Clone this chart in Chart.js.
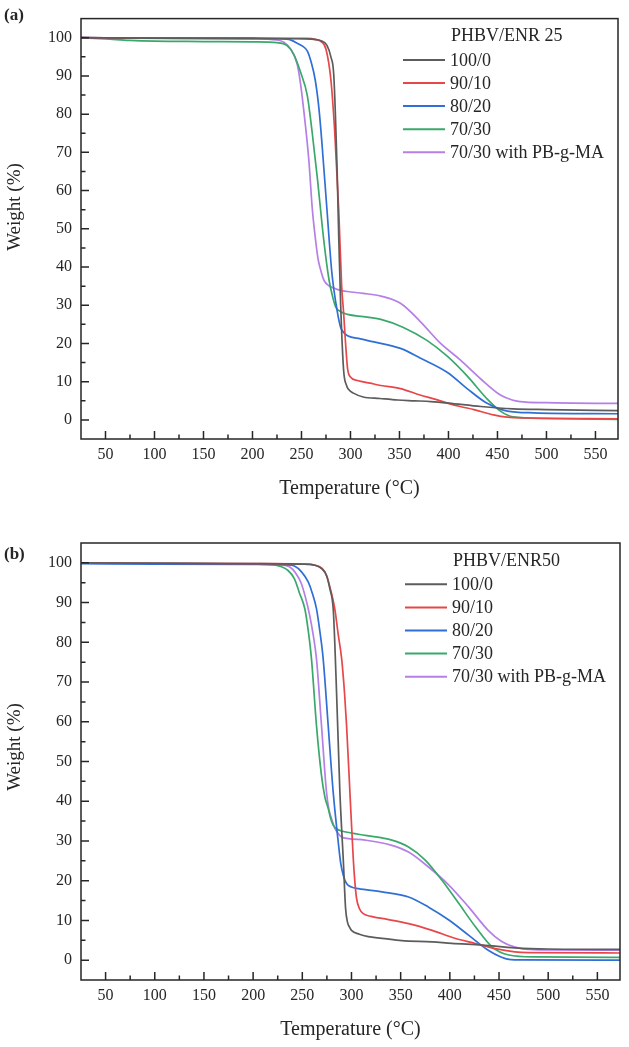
<!DOCTYPE html>
<html>
<head>
<meta charset="utf-8">
<script src="https://cdn.jsdelivr.net/npm/chart.js@4.4.1/dist/chart.umd.min.js"></script>
<style>
  html, body { margin: 0; padding: 0; background: #fff; }
  #wrap { position: relative; width: 629px; height: 1047px; }
  canvas { position: absolute; left: 0; }
</style>
</head>
<body>
<div id="wrap">
  <canvas id="chart-a" width="629" height="522" style="top:0"></canvas>
  <canvas id="chart-b" width="629" height="525" style="top:522px"></canvas>
</div>
<script>
// --- series labels / colours ---
const seriesNames = ['100/0', '90/10', '80/20', '70/30', '70/30 with PB-g-MA'];
const seriesColors = ['#5c5c5c', '#e8474a', '#2f6fd6', '#3aa86b', '#b57fe6'];

// --- axis ticks ---
const xTicks = [50, 100, 150, 200, 250, 300, 350, 400, 450, 500, 550];
const xMinor = [75, 125, 175, 225, 275, 325, 375, 425, 475, 525];
const yTicks = [0, 10, 20, 30, 40, 50, 60, 70, 80, 90, 100];
const yMinor = [5, 15, 25, 35, 45, 55, 65, 75, 85, 95];

// --- panel (a): PHBV/ENR 25 ---
const a100T = [25, 100, 200, 255, 265, 270, 276, 280, 283, 286.5, 288, 290, 293, 296, 298, 303, 313, 330, 348, 365, 382, 400, 433, 466, 500, 575];
const a100W = [100, 99.9, 99.8, 99.7, 99.5, 99.2, 98, 95, 90, 64, 48, 30, 13, 9, 8, 7, 6, 5.6, 5.2, 5, 4.8, 4.4, 3.5, 2.9, 2.7, 2.4];
const a90T = [25, 100, 200, 255, 265, 270, 275, 280, 284, 288, 291, 293, 295, 297, 300, 307, 320, 331, 351, 371, 385, 399, 412, 426, 446, 460, 480, 575];
const a90W = [100, 99.9, 99.9, 99.8, 99.5, 99, 97, 89, 75, 55, 35, 28, 20, 13.5, 11.2, 10.3, 9.6, 9, 8.2, 6.5, 5.5, 4.4, 3.5, 2.7, 1.3, 0.7, 0.5, 0.3];
const a80T = [25, 100, 200, 235, 240, 246, 251, 256, 260, 264, 268, 271, 276, 281, 286.5, 290, 293, 297, 310, 324, 351, 371, 399, 419, 439, 460, 487, 575];
const a80W = [100, 99.9, 99.8, 99.6, 99.3, 98.5, 97.8, 96.5, 93.5, 89, 81, 72, 55, 38.5, 28.4, 24.2, 22.9, 22, 21.2, 20.4, 18.7, 16.2, 12.4, 8.2, 4.4, 2.3, 1.85, 1.6];
const a70T = [25, 50, 75, 100, 150, 200, 225, 235, 242, 249, 256, 261, 266, 272.8, 278, 282, 285, 290, 297, 313, 331, 354, 378, 399, 419, 439, 453, 466, 500, 575];
const a70W = [100, 99.7, 99.3, 99.1, 99, 98.9, 98.7, 98, 95.7, 91, 84.8, 75, 63.7, 46.9, 36.8, 32, 29.5, 28.3, 27.6, 27, 26.3, 24.2, 20.8, 16.6, 11.5, 5.6, 2.3, 0.8, 0.4, 0.1];
const aPbT = [25, 100, 200, 225, 232, 239, 245.7, 249, 252.5, 257.5, 261, 264.4, 267, 269.5, 273, 278, 284, 290, 297, 313, 331, 351, 371, 392, 412, 433, 453, 465, 473, 500, 575];
const aPbW = [100, 99.8, 99.7, 99.4, 98.8, 97, 93, 88, 80.6, 68, 55.3, 47, 42, 39.3, 36.5, 35.1, 34.4, 33.9, 33.6, 33.1, 32.4, 30.5, 25.8, 20, 15.7, 10.7, 6.5, 5.2, 4.8, 4.5, 4.3];

// --- panel (b): PHBV/ENR50 ---
const b100T = [25, 100, 200, 250, 263, 270, 274.6, 278, 281.4, 283, 284.8, 286.5, 288.2, 290, 291.6, 294, 296, 298, 300, 308, 317, 331, 351, 382, 402, 433, 466, 500, 575];
const b100W = [100, 99.9, 99.8, 99.7, 99.4, 98.5, 96.9, 93.5, 88.5, 80, 67.5, 55, 42.3, 33, 25.6, 13, 9.5, 8.3, 7.5, 6.5, 5.9, 5.5, 4.9, 4.6, 4.2, 3.8, 3.1, 2.8, 2.7];
const b90T = [25, 100, 200, 250, 263, 270, 275, 279, 283, 286.5, 290, 293, 295, 298.4, 301.8, 303.5, 305.2, 308, 312, 320, 331, 358, 382, 405, 426, 446, 466, 480, 575];
const b90W = [100, 99.9, 99.8, 99.7, 99.4, 98.6, 96.5, 93, 88.5, 82, 75.9, 67, 59.1, 42.3, 25.6, 19.5, 15.5, 13, 11.7, 11, 10.5, 9.2, 7.5, 5.5, 4.2, 2.9, 2.1, 1.9, 1.8];
const b80T = [25, 100, 200, 235, 242, 249, 256, 260, 264.4, 268, 271.2, 276.3, 281.4, 286.5, 289, 291.6, 295, 300, 307, 331, 358, 378, 399, 419, 439, 452, 460, 475, 575];
const b80W = [99.8, 99.7, 99.6, 99.5, 99.2, 97.8, 95.2, 92.5, 88.5, 82.5, 75.9, 59.1, 42.3, 29.8, 24.5, 21.4, 19.3, 18.4, 18, 17.2, 15.9, 13.4, 10.1, 6.3, 2.5, 0.8, 0.2, 0.05, 0];
const b70T = [25, 100, 200, 222, 229, 235, 242, 247, 252.5, 256, 259.3, 264.4, 269.5, 273, 276.3, 279, 281.4, 285, 290, 300, 314, 341, 358, 375, 392, 409, 426, 443, 460, 487, 575];
const b70W = [100, 99.9, 99.7, 99.5, 99, 98.2, 96, 92.5, 88.5, 83, 75.9, 59.1, 46.5, 41, 38.2, 35.5, 34, 33, 32.5, 32, 31.4, 30.2, 28.5, 25.2, 20.1, 14.3, 8.4, 3.3, 1.3, 0.8, 0.7];
const bPbT = [25, 100, 200, 230, 237, 243, 249, 253, 257.5, 261, 264.4, 269.5, 274.6, 277, 279.7, 283, 286.5, 290, 297, 314, 341, 358, 378, 399, 419, 439, 452, 460, 473, 490, 575];
const bPbW = [100, 99.9, 99.7, 99.5, 99, 97.5, 94.8, 91.5, 86.8, 82, 75.9, 59.1, 42.3, 38, 35.6, 33.2, 31.9, 31, 30.6, 30.2, 28.9, 27.2, 23.5, 18.9, 13.4, 7.5, 4.8, 3.8, 2.9, 2.6, 2.5];

const FONT = "'Liberation Serif', 'Times New Roman', serif";
const INK = '#262626';

const zip = (T, W) => T.map((t, i) => ({ x: t, y: W[i] }));

function makeDatasets(pairs) {
  return pairs.map(([T, W], i) => ({
    label: seriesNames[i],
    data: zip(T, W),
    borderColor: seriesColors[i],
    borderWidth: 1.7,
    pointRadius: 0,
    fill: false,
    cubicInterpolationMode: 'monotone'
  }));
}

// frame, inward ticks, legend, y title and panel letter
const decor = {
  id: 'decor',
  afterDraw(chart, args, opts) {
    const { ctx, chartArea: a, scales: { x, y } } = chart;
    ctx.save();
    ctx.strokeStyle = INK;
    ctx.lineWidth = 1.5;
    ctx.strokeRect(a.left, a.top, a.right - a.left, a.bottom - a.top);

    ctx.beginPath();
    xTicks.forEach(v => { const p = x.getPixelForValue(v); ctx.moveTo(p, a.bottom); ctx.lineTo(p, a.bottom - 8); });
    xMinor.forEach(v => { const p = x.getPixelForValue(v); ctx.moveTo(p, a.bottom); ctx.lineTo(p, a.bottom - 4.5); });
    yTicks.forEach(v => { const p = y.getPixelForValue(v); ctx.moveTo(a.left, p); ctx.lineTo(a.left + 8, p); });
    yMinor.forEach(v => { const p = y.getPixelForValue(v); ctx.moveTo(a.left, p); ctx.lineTo(a.left + 4.5, p); });
    ctx.stroke();

    // legend
    ctx.fillStyle = INK;
    ctx.font = '18px ' + FONT;
    ctx.textBaseline = 'middle';
    ctx.textAlign = 'left';
    ctx.fillText(opts.legendTitle, a.right - 167, a.top + 18);
    chart.data.datasets.forEach((ds, i) => {
      const ry = a.top + 41.3 + i * 23.1;
      ctx.strokeStyle = ds.borderColor;
      ctx.lineWidth = 2;
      ctx.beginPath();
      ctx.moveTo(a.right - 215, ry);
      ctx.lineTo(a.right - 173, ry);
      ctx.stroke();
      ctx.fillText(ds.label, a.right - 168, ry + 1);
    });

    // y title
    ctx.save();
    ctx.translate(15, opts.yTitleY);
    ctx.rotate(-Math.PI / 2);
    ctx.textAlign = 'center';
    ctx.font = '19px ' + FONT;
    ctx.fillText('Weight (%)', 0, 0);
    ctx.restore();

    // panel letter
    ctx.font = 'bold 17px ' + FONT;
    ctx.textAlign = 'left';
    ctx.fillText(opts.panel, 4, opts.panelY);
    ctx.restore();
  }
};

function buildChart(id, pairs, cfg) {
  const el = document.getElementById(id);
  return new Chart(el.getContext('2d'), {
    type: 'line',
    data: { datasets: makeDatasets(pairs) },
    options: {
      responsive: false,
      animation: false,
      layout: { padding: { top: cfg.padTop, right: cfg.padRight, left: 0, bottom: 0 } },
      plugins: {
        legend: { display: false },
        tooltip: { enabled: false },
        decor: { legendTitle: cfg.legendTitle, yTitleY: cfg.yTitleY, panel: cfg.panel, panelY: cfg.panelY }
      },
      scales: {
        x: {
          type: 'linear',
          min: 25,
          max: 573,
          afterBuildTicks: s => { s.ticks = xTicks.map(v => ({ value: v })); },
          afterFit: s => { s.height = cfg.xHeight; },
          grid: { display: false, drawTicks: false, tickLength: 0 },
          border: { display: false },
          ticks: { color: INK, font: { family: FONT, size: 16 }, padding: 6, maxRotation: 0, autoSkip: false },
          title: { display: true, text: 'Temperature (°C)', color: INK, font: { family: FONT, size: 20 }, padding: { top: 0, bottom: cfg.titlePad } }
        },
        y: {
          type: 'linear',
          min: -5,
          max: 105,
          afterBuildTicks: s => { s.ticks = yTicks.map(v => ({ value: v })); },
          afterFit: s => { s.width = 81; },
          grid: { display: false, drawTicks: false, tickLength: 0 },
          border: { display: false },
          ticks: { color: INK, font: { family: FONT, size: 16 }, padding: 9 }
        }
      }
    },
    plugins: [decor]
  });
}

buildChart('chart-a',
  [[a100T, a100W], [a90T, a90W], [a80T, a80W], [a70T, a70W], [aPbT, aPbW]],
  { padTop: 3, padRight: 11, xHeight: 83, titlePad: 21, legendTitle: 'PHBV/ENR 25', yTitleY: 207, panel: '(a)', panelY: 16 });

buildChart('chart-b',
  [[b100T, b100W], [b90T, b90W], [b80T, b80W], [b70T, b70W], [bPbT, bPbW]],
  { padTop: 21, padRight: 9, xHeight: 67, titlePad: 5, legendTitle: 'PHBV/ENR50', yTitleY: 225, panel: '(b)', panelY: 33 });
</script>
</body>
</html>
